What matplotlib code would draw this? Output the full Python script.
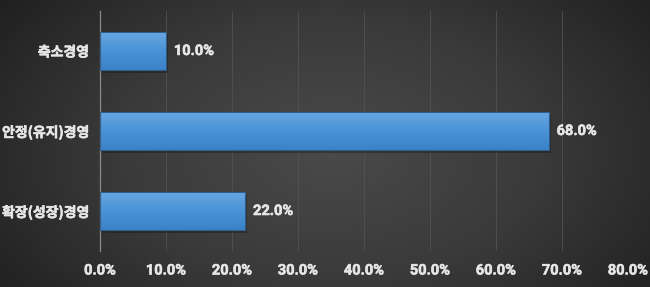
import numpy as np
import matplotlib.pyplot as plt
import matplotlib.patheffects as pe
from matplotlib.colors import LinearSegmentedColormap

plt.rcParams['font.family'] = ['Noto Sans CJK KR', 'DejaVu Sans']

# data
categories = ['확장(성장)경영', '안정(유지)경영', '축소경영']
values = [22.0, 68.0, 10.0]
xticks = [0, 10, 20, 30, 40, 50, 60, 70, 80]

fig = plt.figure(figsize=(6.5, 2.87), dpi=100)

# radial gradient background
bg = fig.add_axes([0, 0, 1, 1])
yy, xx = np.mgrid[0:287, 0:650]
cx, cy = 330, 150
r = np.sqrt(((xx - cx) / 420.0) ** 2 + ((yy - cy) / 260.0) ** 2)
r = np.clip(r, 0, 1)
bg_cmap = LinearSegmentedColormap.from_list('bg', ['#4a4a4a', '#3a3a3a', '#1f1f1f'])
bg.imshow(r, cmap=bg_cmap, aspect='auto', vmin=0, vmax=1)
bg.axis('off')

ax = fig.add_axes([0.1538, 0.1254, 0.966 - 0.1538, 0.9617 - 0.1254])
ax.patch.set_alpha(0)

thick_num = [pe.withStroke(linewidth=0.4, foreground='#e6e6e6')]
thick_kr = [pe.withStroke(linewidth=0.45, foreground='#e6e6e6')]

y = np.arange(len(categories))
bars = ax.barh(y, values, height=0.48, color='none', edgecolor='#2f5f8c',
               linewidth=0.8, zorder=3)

bar_cmap = LinearSegmentedColormap.from_list('bar', ['#6ba8e2', '#4a92d8', '#3c82c8'])
grad = np.linspace(0, 1, 64).reshape(-1, 1)
for b in bars:
    x0, y0 = b.get_x(), b.get_y()
    w, h = b.get_width(), b.get_height()
    # soft shadow
    ax.barh(y0 + h / 2 - 0.04, w, height=h, left=x0 + 0.3, color='#111111',
            alpha=0.35, zorder=2)
    im = ax.imshow(grad, cmap=bar_cmap, aspect='auto',
                   extent=[x0, x0 + w, y0, y0 + h], origin='upper', zorder=2.5)
    im.set_clip_path(b)
    ax.text(x0 + w + 1.2, y0 + h / 2, f'{w:.1f}%', va='center', ha='left',
            color='#e6e6e6', fontsize=10.5, fontweight='bold', family='Roboto',
            path_effects=thick_num, zorder=4)

ax.set_xlim(0, 80)
ax.set_ylim(-0.5, 2.5)
ax.set_xticks(xticks)
ax.set_xticklabels([f'{t:.1f}%' for t in xticks])
ax.set_yticks(y)
ax.set_yticklabels(categories)
ax.tick_params(axis='both', length=0, colors='#e6e6e6')
ax.tick_params(axis='x', pad=9, labelsize=10.5)
ax.tick_params(axis='y', pad=8, labelsize=10)
for lab in ax.get_xticklabels():
    lab.set_fontfamily('Roboto')
    lab.set_fontweight('bold')
    lab.set_path_effects(thick_num)
for lab in ax.get_yticklabels():
    lab.set_fontweight('bold')
    lab.set_path_effects(thick_kr)

ax.grid(axis='x', color='#525252', linewidth=0.6, zorder=0)
for s in ['top', 'right', 'bottom']:
    ax.spines[s].set_visible(False)
ax.spines['left'].set_color('#8a8a8a')
ax.spines['left'].set_linewidth(0.9)

fig.savefig('out.png', dpi=100)
